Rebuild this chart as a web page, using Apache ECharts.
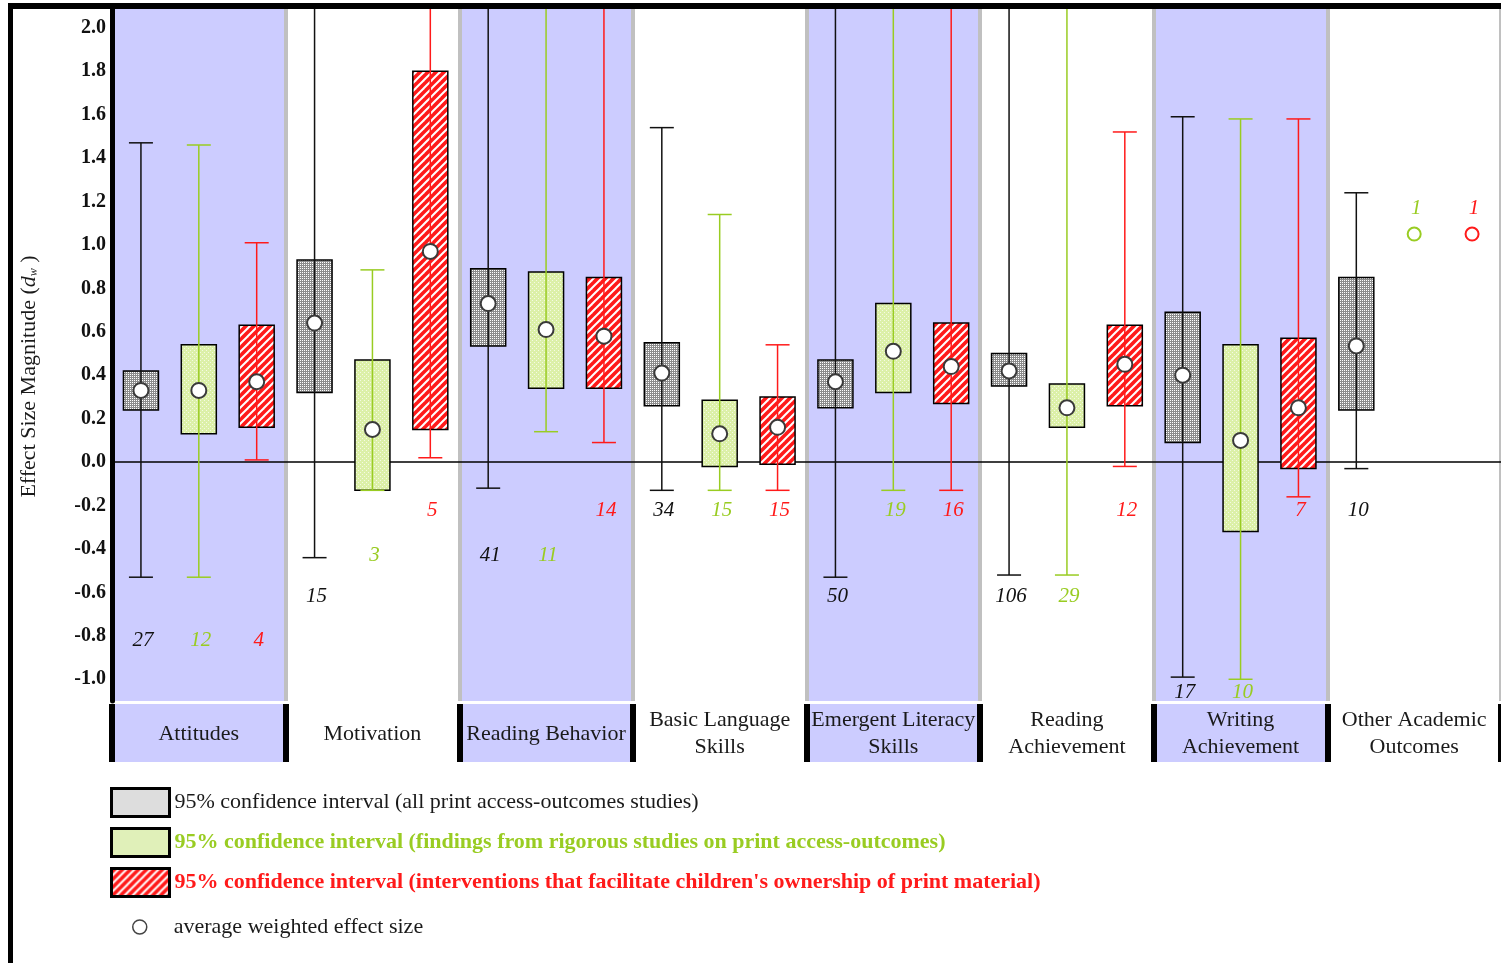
<!DOCTYPE html>
<html>
<head>
<meta charset="utf-8">
<script src="https://cdn.jsdelivr.net/npm/echarts@6/dist/echarts.min.js"></script>
<style>
  html, body { margin: 0; padding: 0; background: #fff; overflow: hidden; }
  #chart { position: absolute; left: 0; top: 0; width: 1501px; height: 963px; }
  #frame { position: absolute; left: 8px; top: 3px; width: 1493px; height: 960px;
           border-left: 5px solid #000; border-top: 6px solid #000; box-sizing: border-box; pointer-events: none; }
</style>
</head>
<body>
<div id="chart"></div>
<div id="frame"></div>
<script>
// ---- outcome categories and axis ticks ----
const categories = [
  'Attitudes', 'Motivation', 'Reading Behavior', 'Basic Language\nSkills',
  'Emergent Literacy\nSkills', 'Reading\nAchievement', 'Writing\nAchievement', 'Other Academic\nOutcomes'
];
const yTicks = [-1.0, -0.8, -0.6, -0.4, -0.2, 0.0, 0.2, 0.4, 0.6, 0.8, 1.0, 1.2, 1.4, 1.6, 1.8, 2.0];

// ---- all print access-outcomes studies ----
// whisker values above 2.0 run off the top of the axis
const allRangeLow  = [-0.53, -0.44, -0.12, -0.13, -0.53, -0.52, -0.99, -0.03];
const allRangeHigh = [ 1.47,  2.30,  2.30,  1.54,  2.30,  2.30,  1.59,  1.24];
const allCiLow     = [ 0.24,  0.32,  0.535, 0.26,  0.25,  0.35,  0.09,  0.24];
const allCiHigh    = [ 0.42,  0.93,  0.89,  0.55,  0.47,  0.50,  0.69,  0.85];
const allMean      = [ 0.33,  0.64,  0.73,  0.41,  0.37,  0.42,  0.40,  0.535];
const allCount     = [ 27, 15, 41, 34, 50, 106, 17, 10];
const allCountAt   = [-0.82, -0.62, -0.43, -0.225, -0.62, -0.62, -1.06, -0.225];

// ---- findings from rigorous studies ----
const rigRangeLow  = [-0.53, -0.13,  0.14, -0.13, -0.13, -0.52, -1.00, null];
const rigRangeHigh = [ 1.46,  0.885, 2.30,  1.14,  2.30,  2.30,  1.58, null];
const rigCiLow     = [ 0.13, -0.13,  0.34, -0.02,  0.32,  0.16, -0.32, null];
const rigCiHigh    = [ 0.54,  0.47,  0.875, 0.285, 0.73,  0.36,  0.54, null];
const rigMean      = [ 0.33,  0.15,  0.61,  0.13,  0.51,  0.25,  0.10, 1.05];
const rigCount     = [ 12, 3, 11, 15, 19, 29, 10, 1];
const rigCountAt   = [-0.82, -0.43, -0.43, -0.225, -0.225, -0.62, -1.06, 1.17];

// ---- interventions facilitating ownership of print material ----
const ownRangeLow  = [ 0.01,  0.02,  0.09, -0.13, -0.13, -0.02, -0.16, null];
const ownRangeHigh = [ 1.01,  2.30,  2.30,  0.54,  2.30,  1.52,  1.58, null];
const ownCiLow     = [ 0.16,  0.15,  0.34, -0.01,  0.27,  0.26, -0.03, null];
const ownCiHigh    = [ 0.63,  1.80,  0.85,  0.30,  0.64,  0.63,  0.57, null];
const ownMean      = [ 0.37,  0.97,  0.58,  0.16,  0.44,  0.45,  0.25, 1.05];
const ownCount     = [ 4, 5, 14, 15, 16, 12, 7, 1];
const ownCountAt   = [-0.82, -0.225, -0.225, -0.225, -0.225, -0.225, -0.225, 1.17];

// ---- presentation ----
const FONT = '"Liberation Serif", "Times New Roman", serif';
const GREEN = '#99cc22';
const RED = '#ff1a1a';
const LAVENDER = '#ccccff';
const Y_MIN = -1.1, Y_MAX = 2.1;
const NAME_ALL = '95% confidence interval (all print access-outcomes studies)';
const NAME_RIG = '95% confidence interval (findings from rigorous studies on print access-outcomes)';
const NAME_OWN = "95% confidence interval (interventions that facilitate children's ownership of print material)";
const NAME_MEAN = 'average weighted effect size';

// tile patterns: base colour plus dots / stripes
function makePattern(base, kind, ink, dense) {
  const c = document.createElement('canvas');
  const g = c.getContext('2d');
  if (kind === 'stripes') {
    c.width = 8; c.height = 8;
    if (base) { g.fillStyle = base; g.fillRect(0, 0, 8, 8); }
    g.strokeStyle = ink; g.lineWidth = 2;
    for (const o of [-8, 0, 8]) {
      g.beginPath(); g.moveTo(o - 1, 9); g.lineTo(o + 9, -1); g.stroke();
    }
  } else {
    c.width = 4; c.height = 4;
    if (base) { g.fillStyle = base; g.fillRect(0, 0, 4, 4); }
    g.fillStyle = ink;
    g.fillRect(0, 0, 1, 1); g.fillRect(2, 2, 1, 1);
    if (dense) { g.fillRect(2, 0, 1, 1); g.fillRect(0, 2, 1, 1); }
  }
  return { image: c, repeat: 'repeat' };
}

const groups = [
  { name: NAME_ALL, color: '#111111', fill: makePattern('#8c8c8c', 'dots', '#ffffff', true),
    legendFill: makePattern('#ffffff', 'dots', '#7a7a7a', true), offset: -1 / 3,
    rangeLow: allRangeLow, rangeHigh: allRangeHigh, ciLow: allCiLow, ciHigh: allCiHigh,
    mean: allMean, count: allCount, countAt: allCountAt },
  { name: NAME_RIG, color: GREEN, fill: makePattern('#dcf0a8', 'dots', '#f4fae4', false),
    legendFill: makePattern('#eef7d4', 'dots', '#b8dc6a', true), offset: 0,
    rangeLow: rigRangeLow, rangeHigh: rigRangeHigh, ciLow: rigCiLow, ciHigh: rigCiHigh,
    mean: rigMean, count: rigCount, countAt: rigCountAt },
  { name: NAME_OWN, color: RED, fill: makePattern(RED, 'stripes', '#ffffff'),
    legendFill: makePattern(RED, 'stripes', '#ffffff'), offset: 1 / 3,
    rangeLow: ownRangeLow, rangeHigh: ownRangeHigh, ciLow: ownCiLow, ciHigh: ownCiHigh,
    mean: ownMean, count: ownCount, countAt: ownCountAt }
];

const num = v => (v === null || v === undefined || v === '-' || isNaN(v)) ? null : v;

// box + whisker + count label for one group
function boxRenderer(grp) {
  return function (params, api) {
    const i = api.value(0);
    const band = api.size([1, 0])[0];
    const x = api.coord([i, 0])[0] + grp.offset * band;
    const Y = v => api.coord([i, v])[1];
    const lo = num(api.value(1)), q1 = num(api.value(2)), q3 = num(api.value(4)), hi = num(api.value(5));
    const cnt = api.value(6), at = api.value(7);
    const kids = [];
    const boxW = 35, capW = 24;
    if (q1 !== null && q3 !== null) {
      kids.push({ type: 'rect', shape: { x: x - boxW / 2, y: Y(q3), width: boxW, height: Y(q1) - Y(q3) },
        style: { fill: grp.fill, stroke: '#000', lineWidth: 1.5 } });
    }
    if (lo !== null && hi !== null) {
      const top = Math.min(hi, Y_MAX);
      kids.push({ type: 'line', shape: { x1: x, y1: Y(lo), x2: x, y2: Y(top) },
        style: { stroke: grp.color, lineWidth: 1.5 } });
      kids.push({ type: 'line', shape: { x1: x - capW / 2, y1: Y(lo), x2: x + capW / 2, y2: Y(lo) },
        style: { stroke: grp.color, lineWidth: 1.5 } });
      if (hi <= 2.05) {
        kids.push({ type: 'line', shape: { x1: x - capW / 2, y1: Y(hi), x2: x + capW / 2, y2: Y(hi) },
          style: { stroke: grp.color, lineWidth: 1.5 } });
      }
    }
    kids.push({ type: 'text', x: x + 2, y: Y(at),
      style: { text: String(cnt), fill: grp.color, font: 'italic 21px ' + FONT, align: 'center', verticalAlign: 'middle' } });
    return { type: 'group', children: kids };
  };
}

const boxSeries = groups.map(grp => ({
  name: grp.name,
  type: 'custom',
  xAxisIndex: 0, yAxisIndex: 0,
  itemStyle: { color: grp.legendFill, borderColor: '#000', borderWidth: 3 },
  encode: { x: 0, y: [1, 2, 4, 5] },
  data: categories.map((c, i) => [i, grp.rangeLow[i], grp.ciLow[i], grp.mean[i], grp.ciHigh[i],
    grp.rangeHigh[i], grp.count[i], grp.countAt[i]]),
  renderItem: boxRenderer(grp),
  z: 3
}));

// mean markers for all three groups
const meanData = [];
groups.forEach((grp, g) => {
  categories.forEach((c, i) => {
    meanData.push([i, grp.mean[i], g, grp.ciLow[i] === null ? 0 : 1]);
  });
});
const meanSeries = {
  name: NAME_MEAN,
  type: 'custom',
  xAxisIndex: 0, yAxisIndex: 0,
  itemStyle: { color: '#fff', borderColor: '#444', borderWidth: 1.5 },
  encode: { x: 0, y: 1 },
  data: meanData,
  renderItem: function (params, api) {
    const i = api.value(0), g = api.value(2), hasBox = api.value(3) === 1;
    const band = api.size([1, 0])[0];
    const p = api.coord([i, api.value(1)]);
    const cx = p[0] + groups[g].offset * band;
    return { type: 'circle', shape: { cx: cx, cy: p[1], r: hasBox ? 7.5 : 6.5 },
      style: hasBox ? { fill: '#fff', stroke: '#3a3a3a', lineWidth: 2 }
                    : { fill: 'none', stroke: groups[g].color, lineWidth: 2 } };
  },
  z: 4
};

// category names in the strip under the plot
const labelSeries = {
  type: 'custom',
  xAxisIndex: 1, yAxisIndex: 1,
  silent: true,
  data: categories.map((c, i) => [i, 0.5]),
  renderItem: function (params, api) {
    const p = api.coord([api.value(0), api.value(1)]);
    return { type: 'text', x: p[0], y: p[1] + 1,
      style: { text: categories[params.dataIndex], fill: '#1a1a1a', font: '22px ' + FONT,
        align: 'center', verticalAlign: 'middle', lineHeight: 27 } };
  }
};

const option = {
  animation: false,
  backgroundColor: '#ffffff',
  grid: [
    { left: 112, right: -6, top: 6, height: 695 },
    { left: 112, right: -6, top: 704, height: 58 }
  ],
  xAxis: [
    { type: 'category', gridIndex: 0, data: categories, boundaryGap: true,
      axisLine: { show: true, onZero: true, lineStyle: { color: '#000', width: 1.5 } },
      axisTick: { show: false }, axisLabel: { show: false },
      splitArea: { show: true, areaStyle: { color: [LAVENDER, '#ffffff'] } },
      splitLine: { show: true, lineStyle: { color: '#c0c0c0', width: 4 } } },
    { type: 'category', gridIndex: 1, data: categories, boundaryGap: true,
      axisLine: { show: false }, axisTick: { show: false }, axisLabel: { show: false },
      splitArea: { show: true, areaStyle: { color: [LAVENDER, '#ffffff'] } },
      splitLine: { show: true, lineStyle: { color: '#000', width: 6 } } }
  ],
  yAxis: [
    { type: 'value', gridIndex: 0, min: Y_MIN, max: Y_MAX,
      axisLine: { show: true, lineStyle: { color: '#000', width: 5 } },
      axisTick: { show: false }, splitLine: { show: false },
      axisLabel: { customValues: yTicks, formatter: v => v.toFixed(1), fontFamily: FONT,
        fontWeight: 'bold', fontSize: 20, color: '#111', margin: 6 },
      name: '{t|Effect Size Magnitude (}{d|d}{w|w}{t| )}',
      nameLocation: 'middle', nameRotate: 90, nameGap: 72,
      nameTextStyle: { fontFamily: FONT, fontSize: 22, color: '#1a1a1a', padding: [0, 46, 0, 0],
        rich: { t: { fontFamily: FONT, fontSize: 22, color: '#1a1a1a' },
                d: { fontFamily: FONT, fontSize: 22, fontStyle: 'italic', color: '#1a1a1a' },
                w: { fontFamily: FONT, fontSize: 12, fontStyle: 'italic', color: '#1a1a1a', verticalAlign: 'bottom' } } } },
    { type: 'value', gridIndex: 1, min: 0, max: 1, show: false }
  ],
  legend: [
    { orient: 'vertical', left: 110, top: 787, padding: 0, itemWidth: 58, itemHeight: 28, itemGap: 9,
      selectedMode: false, icon: 'rect',
      textStyle: { fontFamily: FONT, fontSize: 22, color: '#1a1a1a' },
      data: [
        { name: NAME_ALL, itemStyle: { color: groups[0].legendFill, borderColor: '#000', borderWidth: 3 },
          textStyle: { color: '#1a1a1a' } },
        { name: NAME_RIG, itemStyle: { color: groups[1].legendFill, borderColor: '#000', borderWidth: 3 },
          textStyle: { color: GREEN, fontWeight: 'bold' } },
        { name: NAME_OWN, itemStyle: { color: groups[2].legendFill, borderColor: '#000', borderWidth: 3 },
          textStyle: { color: RED, fontWeight: 'bold' } }
      ] },
    { orient: 'vertical', left: 132, top: 916, padding: 0, itemWidth: 14, itemHeight: 14,
      selectedMode: false, icon: 'circle',
      textStyle: { fontFamily: FONT, fontSize: 22, color: '#1a1a1a', padding: [0, 0, 0, 22] },
      data: [ { name: NAME_MEAN, itemStyle: { color: '#fff', borderColor: '#444', borderWidth: 1.5 } } ] }
  ],
  series: [...boxSeries, meanSeries, labelSeries]
};

const chart = echarts.init(document.getElementById('chart'), null, { renderer: 'canvas' });
chart.setOption(option);
</script>
</body>
</html>
